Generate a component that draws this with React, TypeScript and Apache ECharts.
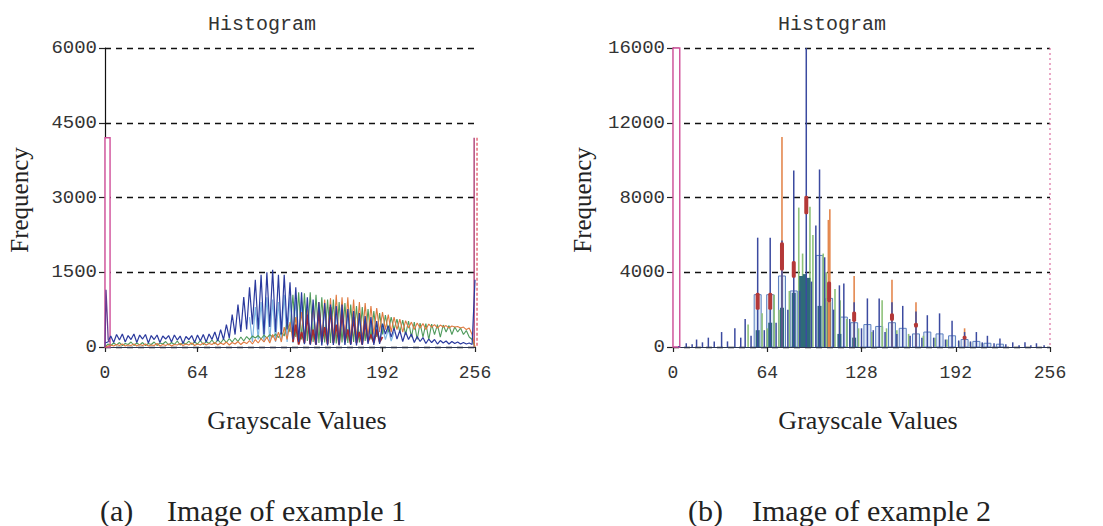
import React, { useEffect, useRef } from "react";
import * as echarts from "echarts";

// ---------- axes ----------
const X_MAX = 256;
const X_STEP = 64;
const Y1_MAX = 6000;
const Y1_STEP = 1500;
const Y2_MAX = 16000;
const Y2_STEP = 4000;

// ---------- example 1 (comb histogram, one value every 2 grey levels, 0..256) ----------
const LEVEL_STEP = 2;
const BLUE_1 = [
  80, 100, 220, 90, 250, 140, 260, 100, 230, 150,
  260, 90, 240, 160, 250, 80, 230, 150, 240, 90,
  220, 160, 230, 100, 240, 140, 220, 70, 210, 150,
  230, 90, 240, 120, 250, 100, 260, 150, 300, 120,
  350, 150, 450, 180, 650, 250, 850, 300, 1000, 350,
  1200, 450, 1350, 350, 1450, 250, 1500, 400, 1550, 300,
  1450, 250, 1450, 350, 1300, 150, 1200, 100, 1100, 60,
  1000, 40, 950, 40, 900, 30, 880, 30, 850, 40,
  820, 30, 850, 40, 760, 40, 720, 30, 680, 40,
  620, 60, 600, 40, 520, 60, 470, 260, 430, 200,
  380, 160, 330, 110, 300, 150, 260, 90, 210, 110,
  190, 70, 160, 90, 150, 60, 130, 80, 120, 60,
  110, 70, 100, 60, 90, 60, 80, 50, 1350,
];
const GREEN_1 = [
  0, 60, 30, 80, 40, 90, 30, 70, 50, 100,
  30, 80, 40, 90, 30, 70, 50, 100, 30, 80,
  60, 110, 40, 90, 50, 120, 40, 90, 60, 120,
  50, 100, 60, 130, 50, 110, 70, 140, 60, 150,
  80, 160, 90, 170, 100, 180, 110, 200, 120, 210,
  150, 220, 180, 230, 160, 240, 180, 250, 200, 260,
  190, 300, 220, 500, 300, 1050, 200, 1100, 150, 1080,
  120, 1100, 100, 1050, 80, 1000, 90, 950, 80, 950,
  70, 900, 90, 880, 80, 850, 100, 820, 90, 800,
  120, 760, 150, 720, 200, 680, 250, 640, 300, 600,
  350, 560, 300, 540, 250, 520, 200, 500, 150, 480,
  200, 470, 150, 460, 250, 450, 200, 440, 300, 430,
  250, 400, 300, 380, 250, 330, 200, 150, 0,
];
const ORANGE_1 = [
  0, 20, 40, 20, 50, 30, 60, 20, 40, 30,
  60, 20, 50, 30, 60, 20, 40, 30, 70, 20,
  50, 30, 60, 20, 50, 40, 70, 30, 60, 40,
  80, 30, 60, 40, 80, 40, 70, 50, 90, 40,
  80, 50, 100, 40, 90, 60, 110, 50, 100, 70,
  130, 60, 150, 80, 170, 100, 200, 80, 250, 120,
  300, 100, 400, 150, 500, 120, 600, 150, 700, 120,
  750, 100, 850, 150, 900, 120, 950, 100, 980, 150,
  1050, 120, 1000, 150, 1000, 100, 950, 150, 900, 120,
  880, 200, 820, 250, 780, 300, 700, 350, 650, 300,
  600, 350, 560, 300, 530, 380, 500, 350, 480, 380,
  470, 350, 460, 400, 450, 380, 440, 400, 430, 380,
  420, 400, 410, 380, 400, 350, 380, 250, 0,
];
const RED_1_START = 130;
const RED_1 = [
  100, 450, 50, 300, 80, 650, 60, 350, 50, 750,
  100, 400, 60, 800, 80, 450, 50, 700, 100, 350,
  60, 600, 80, 300, 50, 500, 100, 250, 80, 350,
  100, 200,
];
const CYAN_1_START = 100;
const CYAN_1 = [
  600, 100, 800, 150, 900, 100, 1000, 120, 950, 100,
  900, 150, 1050, 100, 1000, 80, 950, 60, 900, 50,
  850, 60, 820, 40, 800, 50, 780, 40, 750, 50,
  720, 40, 700, 50, 680, 40, 650, 50, 600, 60,
  560, 80, 500, 100, 450, 120, 400, 150, 350, 120,
  300,
];
const EDGE_1_LEVELS = [0, 0.7, 1.4, 2.2, 3];
const EDGE_1_VALUES = [0, 1150, 700, 150, 100];

// ---------- example 2 (sparse spikes) ----------
const BLUE_2_LEVELS = [
  4, 9, 13, 16, 20, 24, 28, 33, 37, 42, 46, 49, 53, 57.5, 62, 66, 70, 74, 78, 82,
  86, 90.5, 94, 97, 99.5, 103, 109, 113, 116, 120, 123, 128, 132, 136, 140, 144, 148.7, 152, 156, 161,
  165, 169, 172.7, 177, 181, 185, 189.5, 194, 198, 202, 206, 210, 213.5, 218, 222, 226, 230.7, 235, 239, 243,
  246.8, 252,
];
const BLUE_2_VALUES = [
  60, 200, 150, 400, 250, 500, 300, 800, 300, 1000, 500, 1500, 600, 5850, 900, 5850, 1300, 5700, 2000, 9440,
  3000, 16000, 3500, 6500, 9500, 4800, 2000, 3300, 3400, 1500, 2400, 1000, 2600, 900, 2600, 800, 2400, 700, 2200, 600,
  1900, 500, 1700, 500, 1800, 400, 1400, 350, 800, 300, 800, 250, 600, 200, 450, 150, 250, 100, 250, 100,
  200, 100,
];
const BODY_2_LEVELS = [
  57.5, 66, 74, 82, 99.5, 106, 116, 123, 132, 140, 148.7, 156, 165, 172.7, 181, 189.5, 198, 206, 213.5, 222,
];
const BODY_2_VALUES = [
  2800, 2800, 3800, 3000, 4900, 2600, 1600, 1300, 1200, 1100, 1300, 1000, 700, 800, 700, 600, 400, 300, 200, 150,
];
const TEAL_2_LEVELS = [57.5, 66, 74, 82, 87, 89.5, 92, 99.5, 106, 113, 123];
const TEAL_2_VALUES = [900, 1300, 2100, 2900, 3800, 3900, 3700, 2200, 2400, 700, 500];
const GREEN_2_LEVELS = [
  51, 60.5, 64, 68.7, 72, 79, 85.4, 88, 93, 95, 102, 104, 110, 113.5, 118, 126, 135, 142, 145, 152,
  160, 170, 178, 186, 194, 202, 210,
];
const GREEN_2_VALUES = [
  1200, 1800, 1000, 2800, 2000, 3000, 7460, 5000, 7500, 6000, 5000, 4000, 3100, 2500, 1500, 1000, 800, 2500, 1000, 900,
  700, 600, 500, 400, 300, 250, 200,
];
const ORANGE_2_LEVELS = [74, 105.5, 106.5, 123, 148.7, 165, 198];
const ORANGE_2_VALUES = [11240, 6800, 7370, 3800, 3600, 2400, 1000];
const RED_2_LEVELS = [57.5, 66, 74, 82, 90.5, 106, 123, 148.7, 165, 198];
const RED_2_LOW = [2000, 2000, 4100, 3700, 7100, 2400, 1350, 1400, 1050, 400];
const RED_2_HIGH = [2900, 2900, 5600, 4600, 8100, 3500, 1900, 1800, 1300, 600];

// ---------- helpers ----------
const MONO = "Liberation Mono";
const SERIF = "Liberation Serif";

function xAxis(gi: number) {
  return {
    type: "value",
    gridIndex: gi,
    min: 0,
    max: X_MAX,
    interval: X_STEP,
    axisLine: { show: true, onZero: false, lineStyle: { color: "#2b3550", width: 1 } },
    axisTick: { show: true, length: 5, lineStyle: { color: "#222", width: 1.2 } },
    axisLabel: { color: "#333", fontFamily: MONO, fontSize: 18, margin: 17, formatter: (v: number) => String(v) },
    splitLine: { show: false },
  };
}

function yAxis(gi: number, max: number, step: number) {
  return {
    type: "value",
    gridIndex: gi,
    min: 0,
    max,
    interval: step,
    axisLine: { show: true, lineStyle: { color: "#111", width: 1.2 } },
    axisTick: { show: true, length: 6, lineStyle: { color: "#222", width: 1.2 } },
    axisLabel: { color: "#333", fontFamily: MONO, fontSize: 19, margin: 8, formatter: (v: number) => String(v) },
    splitLine: { show: true, lineStyle: { color: "#111", type: [6, 5], width: 1.3 } },
  };
}

function comb(gi: number, start: number, values: number[], color: string, width: number) {
  return {
    type: "line",
    xAxisIndex: gi,
    yAxisIndex: gi,
    symbol: "none",
    silent: true,
    data: values.map((v, i) => [start + i * LEVEL_STEP, v]),
    lineStyle: { color, width },
  };
}

function spikes(levels: number[], values: number[], width: number, fill: string, stroke: string | null, lw: number) {
  return {
    type: "custom",
    xAxisIndex: 1,
    yAxisIndex: 1,
    silent: true,
    clip: true,
    data: levels.map((l, i) => [l, values[i]]),
    encode: { x: 0, y: 1 },
    renderItem: (_p: any, api: any) => {
      const top = api.coord([api.value(0), api.value(1)]);
      const base = api.coord([api.value(0), 0]);
      return {
        type: "rect",
        shape: { x: top[0] - width / 2, y: top[1], width, height: base[1] - top[1] },
        style: { fill, stroke: stroke || undefined, lineWidth: lw },
      };
    },
  };
}

function blobs(levels: number[], lows: number[], highs: number[], width: number, fill: string) {
  return {
    type: "custom",
    xAxisIndex: 1,
    yAxisIndex: 1,
    silent: true,
    clip: true,
    data: levels.map((l, i) => [l, lows[i], highs[i]]),
    encode: { x: 0, y: [1, 2] },
    renderItem: (_p: any, api: any) => {
      const top = api.coord([api.value(0), api.value(2)]);
      const bot = api.coord([api.value(0), api.value(1)]);
      return {
        type: "rect",
        shape: { x: top[0] - width / 2, y: top[1], width, height: bot[1] - top[1], r: 1.5 },
        style: { fill },
      };
    },
  };
}

function markerRect(gi: number, x0: number, x1: number, yTop: number, stroke: string) {
  return {
    type: "custom",
    xAxisIndex: gi,
    yAxisIndex: gi,
    silent: true,
    clip: false,
    data: [[x0, x1, yTop]],
    encode: { x: [0, 1], y: 2 },
    renderItem: (_p: any, api: any) => {
      const a = api.coord([api.value(0), api.value(2)]);
      const b = api.coord([api.value(1), 0]);
      return {
        type: "rect",
        shape: { x: a[0], y: a[1], width: b[0] - a[0], height: b[1] - a[1] },
        style: { fill: "#ffffff", stroke, lineWidth: 1.4 },
      };
    },
  };
}

function markerLine(gi: number, x: number, yTop: number, stroke: string, dash: number[] | null, lw: number) {
  return {
    type: "custom",
    xAxisIndex: gi,
    yAxisIndex: gi,
    silent: true,
    clip: false,
    data: [[x, yTop]],
    encode: { x: 0, y: 1 },
    renderItem: (_p: any, api: any) => {
      const a = api.coord([api.value(0), api.value(1)]);
      const b = api.coord([api.value(0), 0]);
      return {
        type: "line",
        shape: { x1: a[0], y1: a[1], x2: b[0], y2: b[1] },
        style: { stroke, lineWidth: lw, lineDash: dash || undefined },
      };
    },
  };
}

function label(text: string, x: number, y: number, size: number, family: string, fill: string, align = "center", rotation = 0) {
  return {
    type: "text",
    x,
    y,
    rotation,
    silent: true,
    style: {
      text,
      fontSize: size,
      fontFamily: family,
      fill,
      align,
      verticalAlign: "middle",
      textAlign: align,
      textVerticalAlign: "middle",
    },
  };
}

export default function App() {
  const ref = useRef<HTMLDivElement>(null);

  useEffect(() => {
    if (!ref.current) return;
    const chart = echarts.init(ref.current, undefined, { renderer: "svg" });
    const option: any = {
      animation: false,
      backgroundColor: "#ffffff",
      grid: [
        { left: 105, top: 48, width: 370, height: 299 },
        { left: 673, top: 48, width: 377, height: 299 },
      ],
      xAxis: [xAxis(0), xAxis(1)],
      yAxis: [yAxis(0, Y1_MAX, Y1_STEP), yAxis(1, Y2_MAX, Y2_STEP)],
      series: [
        // example 1
        markerRect(0, 0, 3.5, 4200, "#d0509a"),
        markerLine(0, 255.4, 4200, "#a8306a", null, 1.3),
        markerLine(0, 257.4, 4200, "#e04858", [3, 2], 1.2),
        comb(0, CYAN_1_START, CYAN_1, "#7fb6e2", 1.2),
        comb(0, 0, GREEN_1, "#4f9a5c", 1.1),
        comb(0, 0, ORANGE_1, "#e07a40", 1.1),
        comb(0, RED_1_START, RED_1, "#a82c2c", 1.8),
        comb(0, 0, BLUE_1, "#2b3a9e", 1.2),
        {
          type: "line",
          xAxisIndex: 0,
          yAxisIndex: 0,
          symbol: "none",
          silent: true,
          data: EDGE_1_LEVELS.map((l, i) => [l, EDGE_1_VALUES[i]]),
          lineStyle: { color: "#6a3a90", width: 1.3 },
        },
        // example 2
        markerRect(1, 0, 4.6, 16000, "#d0509a"),
        markerLine(1, 256, 16000, "#e07aa8", [2, 3], 1.3),
        spikes(BODY_2_LEVELS, BODY_2_VALUES, 7, "#e2ecf7", "#5b7fbf", 1),
        spikes(GREEN_2_LEVELS, GREEN_2_VALUES, 1.6, "#8fc27a", null, 0),
        spikes(TEAL_2_LEVELS, TEAL_2_VALUES, 4, "#2e6b78", null, 0),
        spikes(ORANGE_2_LEVELS, ORANGE_2_VALUES, 1.6, "#e4874e", null, 0),
        spikes(BLUE_2_LEVELS, BLUE_2_VALUES, 1.5, "#3b4aa0", null, 0),
        blobs(RED_2_LEVELS, RED_2_LOW, RED_2_HIGH, 4, "#b43838"),
      ],
      graphic: [
        label("Histogram", 262, 24, 20, MONO, "#333"),
        label("Histogram", 832, 24, 20, MONO, "#333"),
        label("Frequency", 19, 200, 25, SERIF, "#222", "center", Math.PI / 2),
        label("Frequency", 582, 200, 25, SERIF, "#222", "center", Math.PI / 2),
        label("Grayscale Values", 297, 420, 26, SERIF, "#222"),
        label("Grayscale Values", 868, 420, 26, SERIF, "#222"),
        label("(a)", 100, 510, 30, SERIF, "#222", "left"),
        label("Image of example 1", 167, 510, 30, SERIF, "#222", "left"),
        label("(b)", 688, 510, 30, SERIF, "#222", "left"),
        label("Image of example 2", 752, 510, 30, SERIF, "#222", "left"),
      ],
    };
    chart.setOption(option);
    return () => chart.dispose();
  }, []);

  return (
    <div
      ref={ref}
      style={{ position: "fixed", left: 0, top: 0, width: 1103, height: 526, background: "#fff" }}
    />
  );
}
